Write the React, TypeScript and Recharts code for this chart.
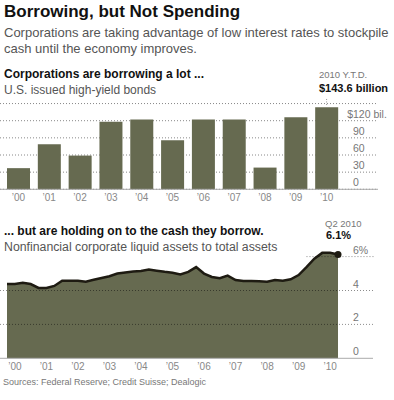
import React from 'react';
import {
  BarChart,
  Bar,
  XAxis,
  YAxis,
  CartesianGrid,
  AreaChart,
  Area,
  ReferenceLine,
  ReferenceDot,
} from 'recharts';

// ---- Top chart: U.S. issued high-yield bonds ($ billions)
const bondYears = ['’00', '’01', '’02', '’03', '’04', '’05', '’06', '’07', '’08', '’09', '’10'];
const bondIssuance = [37, 79, 59, 118, 122, 86, 122, 122, 38, 126, 143.6];
const bondTicks = [0, 30, 60, 90, 120];

// ---- Bottom chart: nonfinancial corporate liquid assets to total assets (%)
const quarterLabels = [
  '1999 Q4',
  '2000 Q1', '2000 Q2', '2000 Q3', '2000 Q4',
  '2001 Q1', '2001 Q2', '2001 Q3', '2001 Q4',
  '2002 Q1', '2002 Q2', '2002 Q3', '2002 Q4',
  '2003 Q1', '2003 Q2', '2003 Q3', '2003 Q4',
  '2004 Q1', '2004 Q2', '2004 Q3', '2004 Q4',
  '2005 Q1', '2005 Q2', '2005 Q3', '2005 Q4',
  '2006 Q1', '2006 Q2', '2006 Q3', '2006 Q4',
  '2007 Q1', '2007 Q2', '2007 Q3', '2007 Q4',
  '2008 Q1', '2008 Q2', '2008 Q3', '2008 Q4',
  '2009 Q1', '2009 Q2', '2009 Q3', '2009 Q4',
  '2010 Q1', '2010 Q2',
];
const liquidRatio = [
  4.38,
  4.38, 4.46, 4.38, 4.15,
  4.15, 4.27, 4.58, 4.58,
  4.57, 4.52, 4.63, 4.74,
  4.84, 5.0, 5.06, 5.12,
  5.15, 5.24, 5.17, 5.1,
  5.05, 4.95, 5.1, 5.38,
  5.0, 4.8, 4.72, 4.88,
  4.62, 4.56, 4.56, 4.55,
  4.52, 4.62, 4.58, 4.66,
  4.91, 5.38, 5.88, 6.22,
  6.22, 6.12,
];
const liquidYearTicks = [2000, 2001, 2002, 2003, 2004, 2005, 2006, 2007, 2008, 2009, 2010];
const liquidTicks = [0, 2, 4, 6];

const bondData = bondYears.map((year, i) => ({ year, value: bondIssuance[i] }));
const liquidData = quarterLabels.map((label, i) => {
  const [y, q] = label.split(' Q');
  return { label, t: Number(y) + (Number(q) - 1) / 4, value: liquidRatio[i] };
});
const lastLiquid = liquidData[liquidData.length - 1];

const FONT = '"Liberation Sans", Arial, Helvetica, sans-serif';
const OLIVE = '#666a50';
const LINE = '#1e1b12';
const LABEL_X = 353;

const TopYTick = (props: any) => {
  const { y, payload } = props;
  const v = payload.value;
  const common = { fontFamily: FONT, fontSize: 10.5, fill: '#777' };
  if (v === 120) {
    return (
      <g>
        <text x={LABEL_X} y={y - 3} textAnchor="end" {...common}>$</text>
        <text x={LABEL_X} y={y - 3} textAnchor="start" {...common}>120 bil.</text>
      </g>
    );
  }
  return (
    <text x={LABEL_X} y={y - 3} textAnchor="start" {...common}>{v}</text>
  );
};

const BottomYTick = (props: any) => {
  const { y, payload } = props;
  const v = payload.value;
  return (
    <text x={LABEL_X} y={y - 3} textAnchor="start" fontFamily={FONT} fontSize={10.5} fill="#777">
      {v === 6 ? '6%' : v}
    </text>
  );
};

const XTick = (props: any) => {
  const { x, y, payload, fmt } = props;
  const label = fmt ? fmt(payload.value) : payload.value;
  return (
    <text x={x} y={y + 11.5} textAnchor="middle" fontFamily={FONT} fontSize={10} fill="#888">
      {label}
    </text>
  );
};

const yearFmt = (v: number) => '’' + String(v).slice(2);

export default function App() {
  return (
    <div style={{ position: 'absolute', left: 0, top: 0, width: 394, height: 400, background: '#fff' }}>
      <div style={{ position: 'absolute', left: 0, top: 0 }}>
        <BarChart
          width={394}
          height={210}
          data={bondData}
          margin={{ top: 103.55, right: 0, bottom: 0, left: 0 }}
        >
          <CartesianGrid vertical={false} stroke="#888" strokeDasharray="1 2" />
          <XAxis
            dataKey="year"
            height={20.7}
            padding={{ left: 3, right: 36 }}
            axisLine={{ stroke: '#aaa' }}
            tickLine={false}
            tickSize={0}
            tickMargin={0}
            interval={0}
            tick={(p: any) => <XTick {...p} />}
          />
          <YAxis
            orientation="right"
            width={16}
            domain={[0, 150]}
            ticks={bondTicks}
            interval={0}
            axisLine={false}
            tickLine={false}
            tick={(p: any) => <TopYTick {...p} />}
          />
          <Bar dataKey="value" fill={OLIVE} barSize={23} isAnimationActive={false} />
          <ReferenceLine
            segment={[{ x: bondYears[10], y: 147.5 }, { x: bondYears[10], y: 158 }]}
            stroke="#999"
            strokeDasharray="1 1.5"
            ifOverflow="visible"
          />
        </BarChart>
      </div>

      <div style={{ position: 'absolute', left: 0, top: 220 }}>
        <AreaChart
          width={394}
          height={160}
          data={liquidData}
          margin={{ top: 19.65, right: 0, bottom: 0, left: 0 }}
        >
          <XAxis
            dataKey="t"
            type="number"
            domain={[1999.75, 2010.25]}
            ticks={liquidYearTicks}
            height={21.7}
            padding={{ left: 7, right: 35 }}
            axisLine={{ stroke: '#aaa' }}
            tickLine={false}
            tickSize={0}
            tickMargin={0}
            interval={0}
            tick={(p: any) => <XTick {...p} fmt={yearFmt} />}
          />
          <YAxis
            orientation="right"
            width={21}
            domain={[0, 7]}
            ticks={liquidTicks}
            interval={0}
            axisLine={false}
            tickLine={false}
            tick={(p: any) => <BottomYTick {...p} />}
          />
          <Area
            type="linear"
            dataKey="value"
            stroke={LINE}
            strokeWidth={2.5}
            fill={OLIVE}
            fillOpacity={1}
            isAnimationActive={false}
            dot={false}
            activeDot={false}
          />
          <ReferenceLine y={2} stroke="#000" strokeOpacity={0.45} strokeDasharray="1 2" />
          <ReferenceLine y={4} stroke="#000" strokeOpacity={0.45} strokeDasharray="1 2" />
          <ReferenceLine
            segment={[{ x: 2009.25, y: 6 }, { x: 2011.4, y: 6 }]}
            stroke="#000"
            strokeOpacity={0.45}
            strokeDasharray="1 2"
            ifOverflow="visible"
          />
          <ReferenceDot x={lastLiquid.t} y={lastLiquid.value} r={3.5} fill={LINE} stroke="none" ifOverflow="visible" />
        </AreaChart>
      </div>

      <svg
        width={394}
        height={400}
        style={{ position: 'absolute', left: 0, top: 0, pointerEvents: 'none' }}
        fontFamily={FONT}
      >
        <text x={4} y={17} fontSize={17} fontWeight="bold" fill="#111">Borrowing, but Not Spending</text>
        <text x={4} y={36.7} fontSize={13} fill="#555">Corporations are taking advantage of low interest rates to stockpile</text>
        <text x={4} y={52.7} fontSize={13} fill="#555">cash until the economy improves.</text>

        <text x={4} y={77.5} fontSize={12} fontWeight="bold" fill="#111">Corporations are borrowing a lot ...</text>
        <text x={4} y={93.5} fontSize={12} fill="#555">U.S. issued high-yield bonds</text>
        <text x={319} y={77.5} fontSize={9.5} fill="#777">2010 Y.T.D.</text>
        <text x={319} y={92} fontSize={11} fontWeight="bold" fill="#111">$143.6 billion</text>

        <text x={4} y={234.5} fontSize={12} fontWeight="bold" fill="#111">... but are holding on to the cash they borrow.</text>
        <text x={4} y={250.5} fontSize={12.3} fill="#555">Nonfinancial corporate liquid assets to total assets</text>
        <text x={325} y={227} fontSize={9.5} fill="#777">Q2 2010</text>
        <text x={326} y={239} fontSize={11} fontWeight="bold" fill="#111">6.1%</text>

        <text x={3} y={384.7} fontSize={9} fill="#777">Sources: Federal Reserve; Credit Suisse; Dealogic</text>
      </svg>
    </div>
  );
}
